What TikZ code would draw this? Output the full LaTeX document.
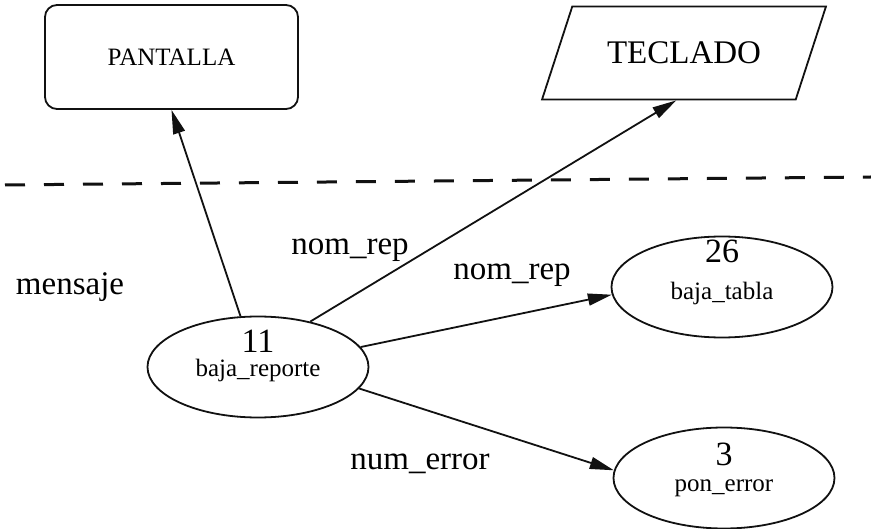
\documentclass[tikz,border=0pt]{standalone}
\usepackage{fontspec}
\setmainfont{Liberation Serif}
\usepackage{xcolor}
\definecolor{diaInk}{HTML}{111111}
\usepackage{tikz}
\usetikzlibrary{shapes.geometric,arrows.meta,positioning,calc}
\tikzset{
    screen/.style={
        draw=diaInk,
        rectangle,
        rounded corners=12pt,
        line width=1.8pt,
        minimum width=253pt,
        minimum height=104pt,
        font=\fontsize{25}{25}\selectfont
    },
    keyboard/.style={
        draw=diaInk,
        trapezium,
        trapezium left angle=53,
        trapezium right angle=127,
        trapezium stretches=true,
        line width=1.8pt,
        minimum width=284pt,
        minimum height=93pt,
        font=\fontsize{33}{33}\selectfont
    },
    process/.style={
        draw=diaInk,
        ellipse,
        line width=1.8pt,
        minimum width=221pt,
        minimum height=101pt,
        inner sep=0pt,
        align=center,
        font=\fontsize{25}{25}\selectfont
    },
    arrow/.style={
        -{Triangle[length=24pt,width=12pt]},
        line width=1.8pt,
        color=diaInk
    },
    flowlabel/.style={
        font=\fontsize{33}{33}\selectfont,
        anchor=base,
        inner sep=0pt
    },
    boundary/.style={
        line width=3pt,
        dash pattern=on 20pt off 19pt,
        dash phase=34pt,
        color=diaInk
    }
}
\newcommand{\procnum}[1]{{\fontsize{34}{34}\selectfont #1}}

\begin{document}
\begin{tikzpicture}[x=1pt,y=-1pt]
    \useasboundingbox (0,0) rectangle (871,529);

    % external entities
    \node[screen] (pantalla) at (171.5,57) {PANTALLA};
    \node[keyboard] (teclado) at (684,53) {TECLADO};

    % system boundary
    \coordinate (limleft) at (0,185);
    \coordinate (limright) at (871,177);
    \draw[boundary] (limleft) -- (limright);

    % processes
    \node[process, text height=40pt, text depth=20pt] (reporte) at (258,367) {\procnum{11}\\[-1pt]baja\_reporte};
    \node[process, text height=40pt, text depth=14pt] (tabla) at (722,287) {\procnum{26}\\[12pt]baja\_tabla};
    \node[process, text height=40pt, text depth=12pt] (error) at (724,478) {\procnum{3}\\[2pt]pon\_error};

    % flows
    \draw[arrow] (reporte.109) -- (pantalla.south);
    \draw[arrow] (reporte.41) -- ($(teclado.bottom left corner)!0.53!(teclado.bottom right corner)$);
    \draw[arrow] (reporte.11) -- (tabla.184);
    \draw[arrow] (reporte.-12) -- (error.176);

    % flow names
    \node[flowlabel] (lblmensaje) at (70,295) {mensaje};
    \node[flowlabel] (lblnomrep) at (350,255) {nom\_rep};
    \node[flowlabel] (lblnomrepb) at (512,280) {nom\_rep};
    \node[flowlabel] (lblnumerror) at (420,470) {num\_error};
\end{tikzpicture}
\end{document}
